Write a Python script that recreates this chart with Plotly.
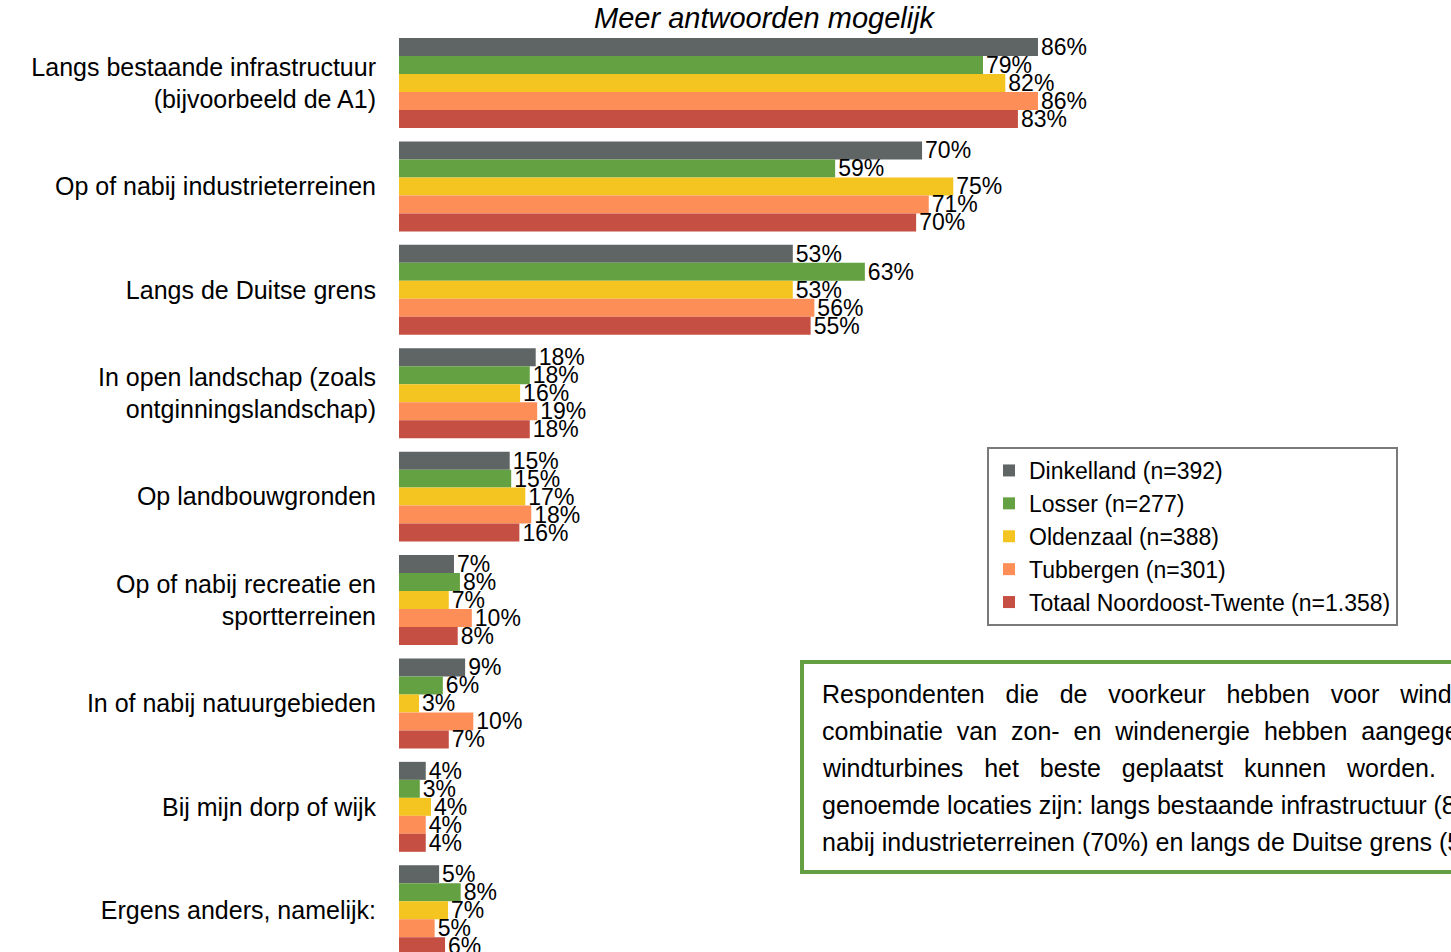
import plotly.graph_objects as go

# categories (top to bottom)
categories = [
    "Langs bestaande infrastructuur<br>(bijvoorbeeld de A1)",
    "Op of nabij industrieterreinen",
    "Langs de Duitse grens",
    "In open landschap (zoals<br>ontginningslandschap)",
    "Op landbouwgronden",
    "Op of nabij recreatie en<br>sportterreinen",
    "In of nabij natuurgebieden",
    "Bij mijn dorp of wijk",
    "Ergens anders, namelijk:",
]

series_names = [
    "Dinkelland (n=392)",
    "Losser (n=277)",
    "Oldenzaal (n=388)",
    "Tubbergen (n=301)",
    "Totaal Noordoost-Twente (n=1.358)",
]

# percentages per series
dinkelland = [86.0, 70.4, 53.0, 18.4, 14.9, 7.4, 8.9, 3.6, 5.4]
losser = [78.6, 58.7, 62.7, 17.6, 15.1, 8.2, 5.9, 2.8, 8.3]
oldenzaal = [81.6, 74.6, 53.0, 16.3, 17.0, 6.7, 2.7, 4.3, 6.6]
tubbergen = [86.0, 71.3, 55.9, 18.6, 17.8, 9.8, 10.0, 3.6, 4.8]
totaal = [83.3, 69.6, 55.4, 17.6, 16.2, 7.9, 6.7, 3.6, 6.2]

colors = ["#5e6564", "#63a142", "#f4c421", "#fe8e58", "#c44f42"]

# justified text is faked with extra non-breaking spaces
sp2 = " &nbsp;&nbsp;"
sp1 = " &nbsp;"
note_lines = [
    sp2.join("Respondenten die de voorkeur hebben voor windenergie of een".split()),
    sp1.join("combinatie van zon- en windenergie hebben aangegeven waar".split()),
    sp2.join("windturbines het beste geplaatst kunnen worden. De meest".split()),
    "genoemde locaties zijn: langs bestaande infrastructuur (83%), op of",
    "nabij industrieterreinen (70%) en langs de Duitse grens (55%).",
]

FONT = "Liberation Sans, Arial, sans-serif"

fig = go.Figure()
for name, vals, col in zip(series_names, [dinkelland, losser, oldenzaal, tubbergen, totaal], colors):
    fig.add_trace(go.Bar(
        y=categories, x=vals, name=name, orientation="h",
        marker=dict(color=col, line=dict(width=0)),
        texttemplate="%{x:.0f}%", textposition="outside",
        textfont=dict(size=23, color="black", family=FONT),
        constraintext="none", cliponaxis=False,
    ))

W, H = 1451, 952
L, R = 399, 1142
T = 31

def px(x):
    return (x - L) / (R - L)

def py(y):
    return (H - y) / (H - T)

fig.update_layout(
    width=W, height=H,
    barmode="group", bargap=0.13, bargroupgap=0,
    plot_bgcolor="white", paper_bgcolor="white",
    margin=dict(l=L, r=W - R, t=T, b=0),
    font=dict(family=FONT, size=22, color="black"),
    xaxis=dict(range=[0, 100], visible=False),
    yaxis=dict(range=[8.404, -0.503], showgrid=False, zeroline=False,
               ticks="", ticklabelstandoff=22, showline=False,
               tickfont=dict(size=25, color="black")),
    legend=dict(x=px(987), y=py(447), xanchor="left", yanchor="top",
                bordercolor="#7a7a7a", borderwidth=2, bgcolor="white",
                font=dict(size=23, color="black"), traceorder="normal"),
    showlegend=True,
)

fig.add_annotation(text="<i>Meer antwoorden mogelijk</i>", xref="paper", yref="paper",
                   x=px(765), y=py(18), xanchor="center", yanchor="middle",
                   showarrow=False, font=dict(size=29, color="black"))

# note box
fig.add_shape(type="rect", xref="paper", yref="paper",
              x0=px(802), x1=px(1480), y0=py(872), y1=py(662),
              line=dict(color="#64a043", width=4), fillcolor="white", layer="above")
for i, line in enumerate(note_lines):
    fig.add_annotation(text=line, xref="paper", yref="paper",
                       x=px(820), y=py(694 + i * 37),
                       xanchor="left", yanchor="middle", showarrow=False,
                       font=dict(size=25, color="black"))

fig.write_html("out.html", config={"displayModeBar": False},
               post_script="document.body.style.margin='0';")
